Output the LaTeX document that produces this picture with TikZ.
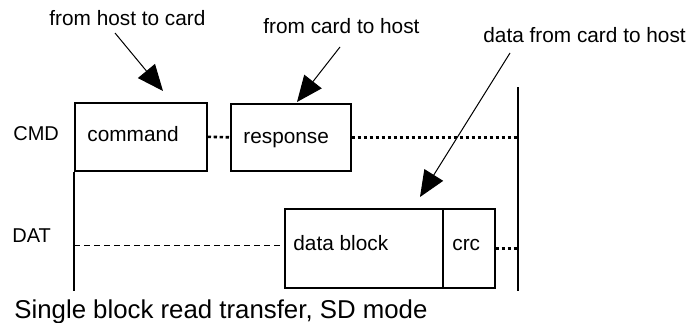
\documentclass[tikz,border=0pt]{standalone}
\usepackage{fontspec}
\setmainfont{Liberation Sans}
\usetikzlibrary{arrows.meta}
\begin{document}
\begin{tikzpicture}[x=0.5pt,y=-0.5pt,
  lbl/.style={anchor=base west,inner sep=0pt,font=\fontsize{10.4pt}{12pt}\selectfont},
  sig/.style={anchor=base west,inner sep=0pt,font=\fontsize{10pt}{12pt}\selectfont},
  box/.style={draw,line width=0.8pt,anchor=north west,inner sep=0pt},
  bar/.style={line width=0.8pt},
  dotline/.style={line width=1.3pt,dash pattern=on 1.7pt off 1.3pt},
  dashline/.style={line width=0.5pt,dash pattern=on 3pt off 2pt},
  pointer/.style={line width=0.5pt,-{Triangle[length=13pt,width=11pt]}}]
\useasboundingbox (0,0) rectangle (691,322);
% boxes
\node[box,minimum width=66pt,minimum height=34pt] (cmdbox) at (74,102) {};
\node[box,minimum width=60pt,minimum height=33.5pt] (respbox) at (230,103) {};
\node[box,minimum width=79pt,minimum height=39.5pt] (databox) at (284,208) {};
\node[box,minimum width=26pt,minimum height=39.5pt] (crcbox) at (442,208) {};
% texts
\node[lbl] (tcmd) at (87,141) {command};
\node[lbl] (tresp) at (243,143) {response};
\node[lbl] (tdata) at (293,250) {data block};
\node[lbl] (tcrc) at (452,250) {crc};
\node[sig] (lcmd) at (13,140) {CMD};
\node[sig] (ldat) at (12,242) {DAT};
\node[lbl] (n1) at (49,25) {from host to card};
\node[lbl] (n2) at (263,33) {from card to host};
\node[lbl] (n3) at (483,42) {data from card to host};
\node[anchor=base west,inner sep=0pt,font=\fontsize{12.9pt}{15pt}\selectfont] (cap) at (14,318) {Single block read transfer, SD mode};
% time bars
\coordinate (lbot) at (74,291);
\coordinate (rtop) at (518,87);
\coordinate (rbot) at (518,291);
\draw[bar] (cmdbox.south west) -- (lbot);
\draw[bar] (rtop) -- (rbot);
% lines
\draw[dotline] (cmdbox.east) -- (respbox.west);
\coordinate (rc) at (respbox.east -| rtop);
\draw[dotline] (respbox.east) -- (rc);
\coordinate (dl) at (74,245);
\coordinate (dr) at (284,245);
\draw[dashline] (dl) -- (dr);
\coordinate (cr) at (crcbox.east -| rtop);
\draw[dotline] (crcbox.east) -- (cr);
% arrows
\coordinate (a1s) at (115,33); \coordinate (a1e) at (163,91);
\coordinate (a2s) at (340,47); \coordinate (a2e) at (297,102);
\coordinate (a3s) at (510,53); \coordinate (a3e) at (420,197);
\draw[pointer] (a1s) -- (a1e);
\draw[pointer] (a2s) -- (a2e);
\draw[pointer] (a3s) -- (a3e);
\end{tikzpicture}
\end{document}
